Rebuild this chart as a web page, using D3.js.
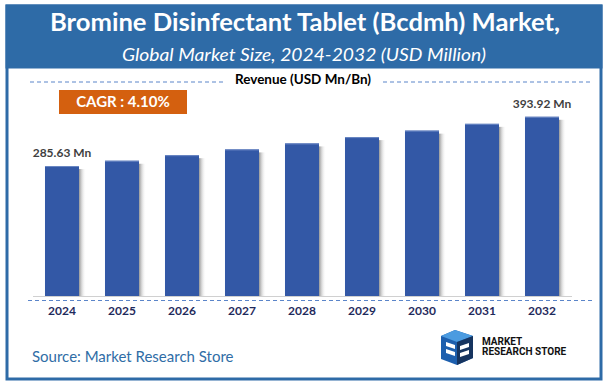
<!DOCTYPE html>
<html>
<head>
<meta charset="utf-8">
<script src="https://cdn.jsdelivr.net/npm/d3@7"></script>
<style>
  body { margin: 0; background: #fff; }
  svg { display: block; }
</style>
</head>
<body>
<div id="chart"></div>
<script>
// data
const years = ['2024', '2025', '2026', '2027', '2028', '2029', '2030', '2031', '2032'];
const revenue = [285.63, 297.3, 309.5, 322.2, 335.4, 349.2, 363.5, 378.4, 393.92];
const labelled = {'2024': '285.63 Mn', '2032': '393.92 Mn'};
const cagrText = 'CAGR : 4.10%';

const W = 609, H = 388;
const blue = '#2e6ba7';
const barColor = '#3358a6';

const svg = d3.select('#chart').append('svg')
  .attr('width', W)
  .attr('height', H);

const defs = svg.append('defs');
const shade = defs.append('linearGradient').attr('id', 'shade');
shade.append('stop').attr('offset', '0%').attr('stop-color', '#8a8a8a').attr('stop-opacity', 0.9);
shade.append('stop').attr('offset', '100%').attr('stop-color', '#ffffff').attr('stop-opacity', 0);

// frame + header
svg.append('rect')
  .attr('x', 7).attr('y', 6).attr('width', 594).attr('height', 373)
  .attr('fill', '#fff').attr('stroke', blue).attr('stroke-width', 3);
svg.append('rect')
  .attr('x', 5.5).attr('y', 4.5).attr('width', 597).attr('height', 64)
  .attr('fill', blue);

svg.append('text')
  .attr('x', 305).attr('y', 31)
  .attr('text-anchor', 'middle')
  .attr('textLength', 510).attr('lengthAdjust', 'spacingAndGlyphs')
  .style('font', 'bold 24px Lato, "Open Sans", sans-serif')
  .attr('fill', '#fff')
  .text('Bromine Disinfectant Tablet (Bcdmh) Market,');

svg.append('text')
  .attr('x', 304).attr('y', 61)
  .attr('text-anchor', 'middle')
  .attr('textLength', 364).attr('lengthAdjust', 'spacingAndGlyphs')
  .style('font', 'italic 18px Lato, "Open Sans", sans-serif')
  .attr('fill', '#fff')
  .text('Global Market Size, 2024-2032 (USD Million)');

// revenue caption with dashed rules
svg.append('text')
  .attr('x', 303).attr('y', 84)
  .attr('text-anchor', 'middle')
  .attr('textLength', 136).attr('lengthAdjust', 'spacingAndGlyphs')
  .style('font', 'bold 13px Lato, sans-serif')
  .attr('fill', '#000')
  .text('Revenue (USD Mn/Bn)');

const dash = [[30, 223], [383, 592]];
svg.selectAll('line.cap')
  .data(dash)
  .join('line')
  .attr('class', 'cap')
  .attr('x1', d => d[0]).attr('x2', d => d[1])
  .attr('y1', 82).attr('y2', 82)
  .attr('stroke', '#5b85c9').attr('stroke-width', 1)
  .attr('stroke-dasharray', '4,3');

// CAGR badge
svg.append('rect')
  .attr('x', 59).attr('y', 90).attr('width', 128).attr('height', 24)
  .attr('fill', '#d4600f');
svg.append('text')
  .attr('x', 123).attr('y', 107)
  .attr('text-anchor', 'middle')
  .style('font', 'bold 15px Lato, sans-serif')
  .attr('fill', '#fff')
  .text(cagrText);

// scales
const x = d3.scaleBand()
  .domain(years)
  .range([32, 572])
  .paddingInner(0.433)
  .paddingOuter(0.2165);

const y = d3.scaleLinear()
  .domain([0, 400])
  .range([296, 114]);

const chart = svg.append('g');

// bar shadows
chart.selectAll('rect.shadow')
  .data(years)
  .join('rect')
  .attr('class', 'shadow')
  .attr('x', d => x(d) + x.bandwidth())
  .attr('y', (d, i) => y(revenue[i]) + 3)
  .attr('width', 7)
  .attr('height', (d, i) => y(0) - y(revenue[i]) - 3)
  .attr('fill', 'url(#shade)');

chart.selectAll('rect.bar')
  .data(years)
  .join('rect')
  .attr('class', 'bar')
  .attr('x', d => x(d))
  .attr('y', (d, i) => y(revenue[i]))
  .attr('width', x.bandwidth())
  .attr('height', (d, i) => y(0) - y(revenue[i]))
  .attr('fill', barColor);

chart.selectAll('line.top')
  .data(years)
  .join('line')
  .attr('class', 'top')
  .attr('x1', d => x(d)).attr('x2', d => x(d) + x.bandwidth())
  .attr('y1', (d, i) => y(revenue[i]) + 0.5).attr('y2', (d, i) => y(revenue[i]) + 0.5)
  .attr('stroke', '#6b88c4').attr('stroke-width', 1);

// value labels on first and last bar
chart.selectAll('text.val')
  .data(years.filter(d => labelled[d]))
  .join('text')
  .attr('class', 'val')
  .attr('x', d => x(d) + x.bandwidth() / 2)
  .attr('y', d => y(revenue[years.indexOf(d)]) - 9)
  .attr('text-anchor', 'middle')
  .style('font', 'bold 12px Lato, sans-serif')
  .attr('fill', '#3f3f3f')
  .text(d => labelled[d]);

// baseline + dashed rule
chart.append('line')
  .attr('x1', 33).attr('x2', 572)
  .attr('y1', 296.5).attr('y2', 296.5)
  .attr('stroke', '#d0d0d0').attr('stroke-width', 1);
chart.append('line')
  .attr('x1', 28).attr('x2', 592)
  .attr('y1', 300.5).attr('y2', 300.5)
  .attr('stroke', '#5b85c9').attr('stroke-width', 1)
  .attr('stroke-dasharray', '4,3');

// year axis
const xAxis = chart.append('g')
  .attr('transform', 'translate(0,304)')
  .call(d3.axisBottom(x).tickSize(0).tickPadding(0));
xAxis.select('.domain').remove();
xAxis.selectAll('text')
  .attr('dy', '0.9em')
  .style('font', 'bold 12px Lato, sans-serif')
  .attr('fill', '#1f2a5c');

// source
svg.append('text')
  .attr('x', 32).attr('y', 362)
  .style('font', '15px Lato, sans-serif')
  .attr('fill', '#2f6da6')
  .text('Source: Market Research Store');

// logo
const logo = svg.append('g').attr('transform', 'translate(437,330)');
logo.append('path')
  .attr('d', 'M4,6 L18,0 L36,6 L36,28 L20,35 L4,29 Z')
  .attr('fill', '#1d5fae');
logo.append('path')
  .attr('d', 'M4,6 L18,0 L36,6 L20,12 Z')
  .attr('fill', '#4b9be0');
logo.append('path')
  .attr('d', 'M20,12 L36,6 L36,28 L20,35 Z')
  .attr('fill', '#16345f');
logo.append('path')
  .attr('d', 'M9,12 L18,15 L18,19 L9,16 Z M9,19 L18,22 L18,26 L9,23 Z M23,16 L32,13 L32,17 L23,20 Z M23,23 L32,20 L32,24 L23,27 Z')
  .attr('fill', '#fff');
logo.append('text')
  .attr('x', 45).attr('y', 15)
  .style('font', 'bold 10px Roboto, sans-serif')
  .attr('fill', '#111')
  .text('MARKET');
logo.append('text')
  .attr('x', 45).attr('y', 25)
  .style('font', 'bold 10px Roboto, sans-serif')
  .attr('fill', '#111')
  .text('RESEARCH STORE');
</script>
</body>
</html>
